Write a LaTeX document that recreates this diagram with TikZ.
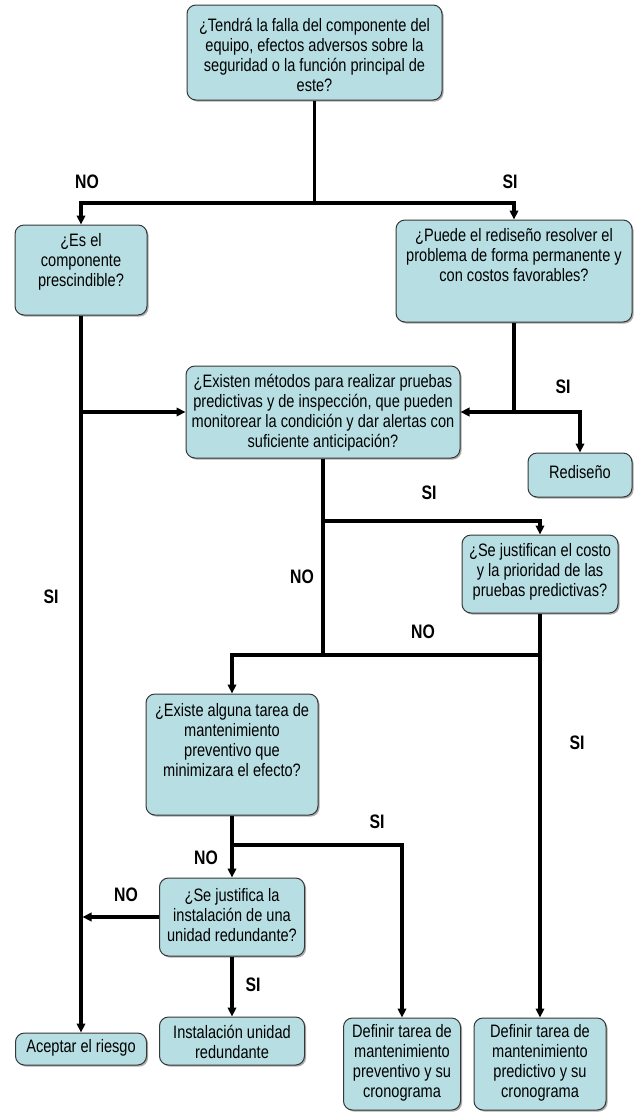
\documentclass[tikz,border=0pt]{standalone}
\usepackage{fontspec}
\setmainfont{Liberation Sans}[FakeStretch=0.81]
\usetikzlibrary{arrows.meta,shadows}
\definecolor{boxfill}{RGB}{183,222,227}
\definecolor{boxline}{RGB}{55,55,55}
\tikzset{
  box/.style={draw=boxline, line width=1pt, fill=boxfill, rounded corners=9pt, inner sep=0pt,
    drop shadow={shadow xshift=1.6pt, shadow yshift=-1.6pt, fill=black!60, opacity=0.55}},
  txt/.style={align=center, inner sep=0pt, font=\fontsize{18}{20}\selectfont},
  lbl/.style={inner sep=0pt, font=\fontsize{19.5}{20}\selectfont\bfseries},
  conn/.style={line width=3.1pt},
  arr/.style={conn, -{Triangle[length=9pt,width=8.5pt]}},
}
\newcommand\qbox[7]{%
  \node[box, minimum width=#4pt, minimum height=#5pt] (#1) at (#2,#3) {};
  \node[txt] (#1t) at (#2,#6) {#7};}
\begin{document}
\begin{tikzpicture}[x=1pt,y=-1pt]
\useasboundingbox (0,0) rectangle (635,1112);
% boxes
\qbox{q1}{314.5}{52.5}{255}{95}{55}{¿Tendrá la falla del componente del\\equipo, efectos adversos sobre la\\seguridad o la función principal de\\este?}
\qbox{q2}{81}{270}{132}{90}{262}{¿Es el\\componente\\prescindible?}
\qbox{q3}{514}{271}{236}{102}{255}{¿Puede el rediseño resolver el\\problema de forma permanente y\\con costos favorables?}
\qbox{q4}{323}{412}{274}{92}{413}{¿Existen métodos para realizar pruebas\\predictivas y de inspección, que pueden\\monitorear la condición y dar alertas con\\suficiente anticipación?}
\qbox{r}{580}{475}{104}{44}{472}{Rediseño}
\qbox{q5}{540}{574}{156}{78}{572}{¿Se justifican el costo\\y la prioridad de las\\pruebas predictivas?}
\qbox{q6}{232}{754.5}{172}{121}{740}{¿Existe alguna tarea de\\mantenimiento\\preventivo que\\minimizara el efecto?}
\qbox{q7}{232}{917}{145}{78}{915}{¿Se justifica la\\instalación de una\\unidad redundante?}
\qbox{a1}{81}{1049}{131}{32}{1048}{Aceptar el riesgo}
\qbox{a2}{232}{1041}{145}{48}{1042}{Instalación unidad\\redundante}
\qbox{a3}{402}{1064}{117}{92}{1063}{Definir tarea de\\mantenimiento\\preventivo y su\\cronograma}
\qbox{a4}{540}{1064}{132}{92}{1063}{Definir tarea de\\mantenimiento\\predictivo y su\\cronograma}
% junction points
\coordinate (j1) at (314.5,203);
\coordinate (j2) at (81,412);
\coordinate (j3) at (514,412);
\coordinate (j4) at (323,521);
\coordinate (j5) at (323,655);
\coordinate (j6) at (540,655);
\coordinate (j7) at (232,845);
\coordinate (j8) at (82.5,917);
% connectors
\draw[conn] (q1.south) -- (j1);
\draw[arr] (j1) -| (q2.north);
\draw[arr] (j1) -| (q3.north);
\draw[arr] (q2.south) -- (a1.north);
\draw[arr] (j2) -- (q4.west);
\draw[conn] (q3.south) -- (j3);
\draw[arr] (j3) -- (q4.east);
\draw[arr] (j3) -| (r.north);
\draw[conn] (q4.south) -- (j5);
\draw[arr] (j4) -| (q5.north);
\draw[arr] (q5.south) -- (a4.north);
\draw[arr] (j6) -| (q6.north);
\draw[arr] (q6.south) -- (q7.north);
\draw[arr] (j7) -| (a3.north);
\draw[arr] (q7.west) -- (j8);
\draw[arr] (q7.south) -- (a2.north);
% labels
\node[lbl] (l1) at (87,182) {NO};
\node[lbl] (l2) at (510,182) {SI};
\node[lbl] (l3) at (563,387) {SI};
\node[lbl] (l4) at (429,493) {SI};
\node[lbl] (l5) at (302,577) {NO};
\node[lbl] (l6) at (51,597) {SI};
\node[lbl] (l7) at (423,632) {NO};
\node[lbl] (l8) at (577,743) {SI};
\node[lbl] (l9) at (377,822) {SI};
\node[lbl] (l10) at (206,858) {NO};
\node[lbl] (l11) at (126,895) {NO};
\node[lbl] (l12) at (253,985) {SI};
\end{tikzpicture}
\end{document}
